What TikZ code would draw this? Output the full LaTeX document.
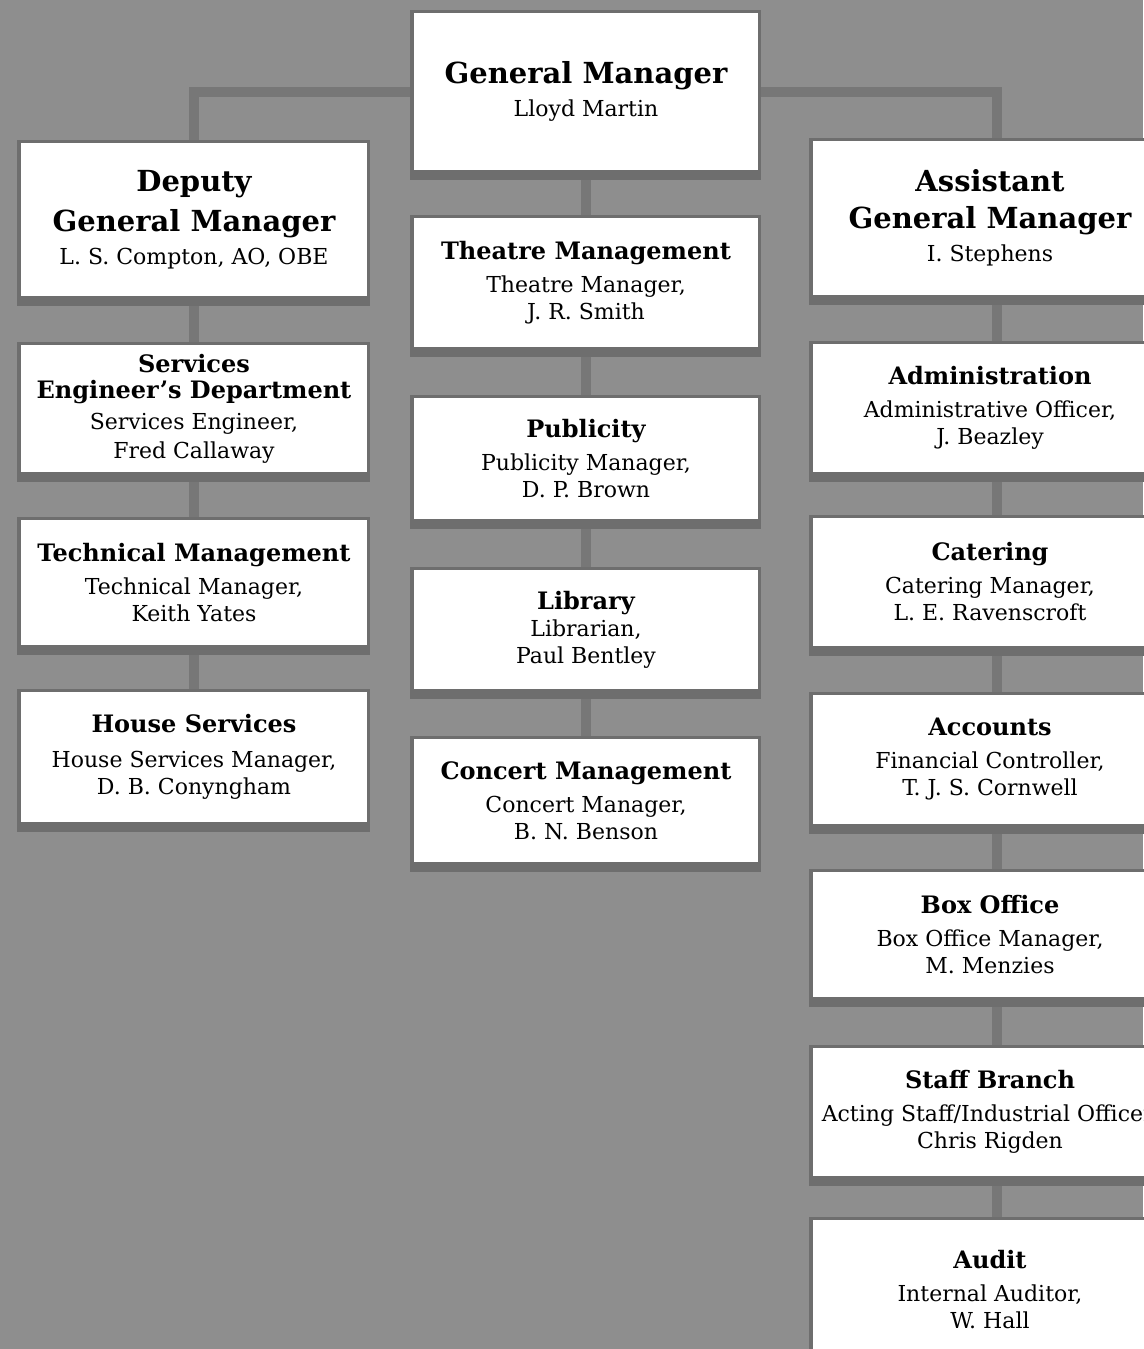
\documentclass[tikz,border=0pt]{standalone}
\usepackage{fontspec}
\setmainfont{DejaVu Serif}
\usetikzlibrary{backgrounds}
\definecolor{bg}{HTML}{8E8E8E}
\definecolor{conn}{HTML}{777777}
\definecolor{frm}{HTML}{6E6E6E}
\newcommand\hd[1]{{\fontsize{24}{27}\selectfont\bfseries #1}}
\newcommand\bighd[1]{{\fontsize{29}{37}\selectfont\bfseries #1}}
\begin{document}
\begin{tikzpicture}[x=1pt,y=-1pt,
  box/.style={fill=white, inner sep=0pt, align=center, font=\fontsize{22}{27}\selectfont},
  lbox/.style={box, minimum width=346},
  cbox/.style={box, minimum width=344},
  rbox/.style={box, minimum width=354},
  link/.style={draw=conn, line width=10pt},
]
\useasboundingbox (0,0) rectangle (1143,1349);
% top
\node[cbox, minimum height=157] (gm) at (586,91.5) {\bighd{General Manager}\\[6pt] Lloyd Martin};
% left column
\node[lbox, minimum height=153] (dgm) at (194,219.5) {\bighd{Deputy}\\[10pt]\bighd{General Manager}\\[6pt] L. S. Compton, AO, OBE};
\node[lbox, minimum height=127] (sed) at (194,408.5) {\hd{Services}\\[-1pt]\hd{Engineer’s Department}\\[4pt] Services Engineer,\\[2pt] Fred Callaway};
\node[lbox, minimum height=125] (tm) at (194,582.5) {\hd{Technical Management}\\[6pt] Technical Manager,\\ Keith Yates};
\node[lbox, minimum height=130] (hs) at (194,757) {\hd{House Services}\\[8pt] House Services Manager,\\ D. B. Conyngham};
% centre column
\node[cbox, minimum height=129] (thm) at (586,282.5) {\hd{Theatre Management}\\[6pt] Theatre Manager,\\ J. R. Smith};
\node[cbox, minimum height=121] (pub) at (586,458.5) {\hd{Publicity}\\[6pt] Publicity Manager,\\ D. P. Brown};
\node[cbox, minimum height=119] (lib) at (586,629.5) {\hd{Library}\\ Librarian,\\ Paul Bentley};
\node[cbox, minimum height=123] (cm) at (586,800.5) {\hd{Concert Management}\\[6pt] Concert Manager,\\ B. N. Benson};
% right column
\node[rbox, minimum height=154] (agm) at (990,218) {\bighd{Assistant}\\[10pt]\bighd{General Manager}\\[6pt] I. Stephens};
\node[rbox, minimum height=128] (adm) at (990,408) {\hd{Administration}\\[6pt] Administrative Officer,\\ J. Beazley};
\node[rbox, minimum height=128] (cat) at (990,582) {\hd{Catering}\\[6pt] Catering Manager,\\ L. E. Ravenscroft};
\node[rbox, minimum height=129] (acc) at (990,759.5) {\hd{Accounts}\\[6pt] Financial Controller,\\ T. J. S. Cornwell};
\node[rbox, minimum height=125] (bxo) at (990,934.5) {\hd{Box Office}\\[6pt] Box Office Manager,\\ M. Menzies};
\node[rbox, minimum height=128] (stf) at (990,1112) {\hd{Staff Branch}\\[6pt] Acting Staff/Industrial Officer,\\ Chris Rigden};
\node[rbox, minimum height=140] (aud) at (990,1290) {\hd{Audit}\\[6pt] Internal Auditor,\\ W. Hall};

\begin{scope}[on background layer]
  \fill[bg] (0,0) rectangle (1143,1349);
  % connectors
  \draw[link] (gm.west) -| (dgm.north);
  \draw[link] (gm.east) -| ([xshift=7pt]agm.north);
  \draw[link] (gm.south) -- (thm.north);
  \draw[link] (thm.south) -- (pub.north);
  \draw[link] (pub.south) -- (lib.north);
  \draw[link] (lib.south) -- (cm.north);
  \draw[link] (dgm.south) -- (sed.north);
  \draw[link] (sed.south) -- (tm.north);
  \draw[link] (tm.south) -- (hs.north);
  \draw[link] ([xshift=7pt]agm.south) -- ([xshift=7pt]adm.north);
  \draw[link] ([xshift=7pt]adm.south) -- ([xshift=7pt]cat.north);
  \draw[link] ([xshift=7pt]cat.south) -- ([xshift=7pt]acc.north);
  \draw[link] ([xshift=7pt]acc.south) -- ([xshift=7pt]bxo.north);
  \draw[link] ([xshift=7pt]bxo.south) -- ([xshift=7pt]stf.north);
  \draw[link] ([xshift=7pt]stf.south) -- ([xshift=7pt]aud.north);
  % box frames
  \foreach \n in {gm,dgm,sed,tm,hs,thm,pub,lib,cm,agm,adm,cat,acc,bxo,stf,aud}
    \fill[frm] ([xshift=-4pt,yshift=3pt]\n.north west) rectangle ([xshift=3pt,yshift=-10pt]\n.south east);
\end{scope}
\end{tikzpicture}
\end{document}
